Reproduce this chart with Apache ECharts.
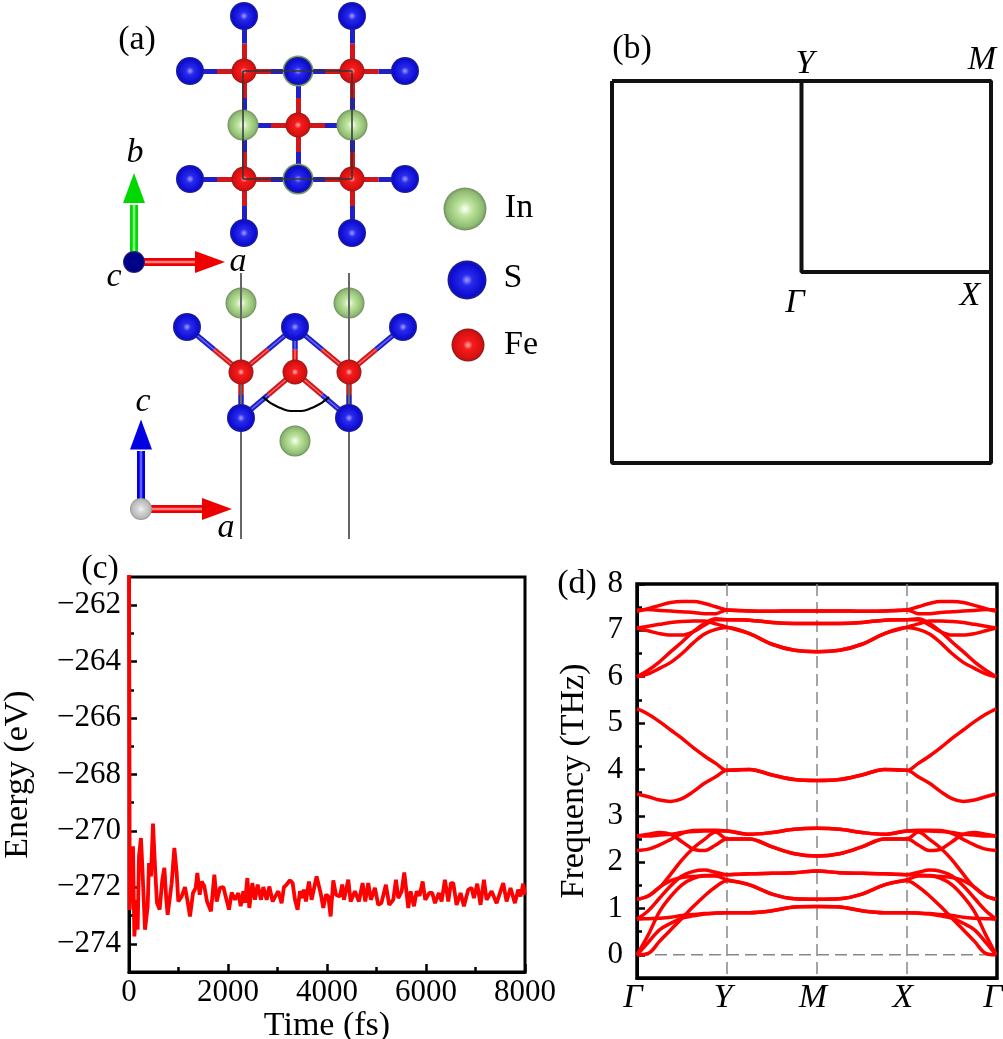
<!DOCTYPE html>
<html><head><meta charset="utf-8">
<style>html,body{margin:0;padding:0;background:#fff}#c{width:1003px;height:1039px}</style>
<script src="https://cdn.jsdelivr.net/npm/echarts@6/dist/echarts.min.js"></script>
</head><body><div id="c"></div>
<script>
// ---------- panel (a): sites, in picture units ----------
const inBehindTop=[[298,71],[298,179]];
const inFrontTop=[[243,125],[352,125]];
const sulfurTop=[[244,16],[352,16],[190,71],[298,71],[405,71],[190,179],[298,179],[405,179],[244,233],[352,233]];
const ironTop=[[244,71],[352,71],[298,125],[244,179],[352,179]];
const bondsTop=[[[244,71],[190,71]],[[244,71],[298,71]],[[244,71],[244,16]],[[244,71],[244,125]],
 [[298,125],[244,125]],[[298,125],[352,125]],[[298,125],[298,71]],[[298,125],[298,179]],
 [[352,71],[298,71]],[[352,71],[405,71]],[[352,71],[352,16]],[[352,71],[352,125]],
 [[244,179],[190,179]],[[244,179],[298,179]],[[244,179],[244,125]],[[244,179],[244,233]],
 [[352,179],[298,179]],[[352,179],[405,179]],[[352,179],[352,125]],[[352,179],[352,233]]];
const indiumSide=[[241,303],[349,303],[295,441]];
const sulfurSide=[[187,327],[295,327],[403,327],[241,418],[349,418]];
const ironSide=[[241,372],[295,372],[349,372]];
const bondsSide=[[[241,372],[187,327]],[[241,372],[295,327]],[[295,372],[295,327]],[[349,372],[295,327]],[[349,372],[403,327]],
 [[241,372],[241,418]],[[349,372],[349,418]],[[295,372],[241,418]],[[295,372],[349,418]]];
const cellBox=[[243,71],[352,71],[352,179],[243,179],[243,71]];
const guideLeft=[[241,273],[241,539]];
const guideRight=[[349,273],[349,539]];
const angleArc=[[263,397],[278,407],[296,411],[314,407],[329,397]];
const legendIn=[[465,209]],legendS=[[467,280]],legendFe=[[468,345]];
// ---------- panel (b) ----------
const zoneFrame=[[-1,1],[1,1],[1,-1],[-1,-1],[-1,1]];
const zonePath=[[0,1],[0,0],[1,0]];
// ---------- panel (c) ----------
const energyTimes=[0,5,10,13,81,108,155,175,202,242,269,323,377,404,444,485,525,565,619,673,714,754,781,821,862,916,963,996,1064,1131,1178,1232,1293,1347,1381,1428,1468,1522,1576,1656,1724,1771,1838,1906,1953,2020,2074,2141,2209,2256,2310,2343,2391,2431,2492,2545,2599,2667,2714,2781,2834,2902,2956,3016,3083,3130,3184,3252,3306,3353,3406,3454,3507,3534,3575,3635,3689,3790,3871,3925,3979,4026,4073,4127,4180,4261,4308,4342,4430,4477,4564,4645,4719,4773,4833,4887,4968,5035,5100,5190,5257,5339,5393,5440,5508,5561,5642,5689,5757,5810,5870,5932,5985,6066,6127,6181,6261,6315,6382,6450,6504,6551,6618,6699,6766,6854,6921,6968,7035,7102,7170,7224,7325,7426,7560,7628,7708,7796,7863,7910,7964,7998];
const energyValues=[-260.9,-264,-268,-272.8,-270.54,-273.74,-272.44,-273.5,-270.9,-270.25,-271.25,-273.5,-272.67,-271.14,-271.61,-269.74,-271.25,-272.55,-272.79,-271.73,-271.31,-272.44,-272.97,-273.03,-271.85,-270.6,-271.49,-272.5,-272.32,-271.99,-272.44,-273.03,-272.2,-272.02,-271.49,-272.26,-271.79,-271.96,-272.5,-272.85,-271.55,-272.5,-272.02,-271.99,-272.32,-272.79,-272.18,-272.44,-272.2,-272.67,-272.14,-272.55,-271.67,-272.73,-271.85,-272.44,-271.9,-272.44,-271.99,-272.44,-271.97,-272.5,-272.32,-272.14,-272.56,-271.99,-271.9,-271.75,-271.85,-272.44,-272.79,-272.14,-272.38,-272.08,-272.5,-271.79,-272.44,-271.61,-272.2,-272.73,-272.26,-272.32,-273.03,-271.75,-272.26,-272.32,-271.9,-272.44,-271.73,-272.5,-272.14,-272.5,-271.85,-272.5,-271.85,-272.44,-272.02,-272.62,-272.55,-271.91,-272.62,-272.44,-271.73,-272.38,-272.14,-271.47,-272.73,-272.14,-272.67,-272.14,-272.3,-271.79,-272.44,-272.2,-272.2,-272.56,-272.2,-272.5,-271.73,-272.5,-271.85,-271.85,-272.62,-272.2,-272.67,-272.08,-272.02,-272.38,-271.87,-272.62,-271.73,-272.44,-272.14,-272.56,-271.85,-272.5,-272.02,-272.56,-272.08,-272.32,-271.87,-272.26];
const energyMajorTicks=[-274,-272,-270,-268,-266,-264,-262];
const energyMinorTicks=[-273,-271,-269,-267,-265,-263];
// ---------- panel (d) ----------
const pathTicks=['Γ','Y','M','X','Γ'];
const pathSamples=[0,.125,.25,.375,.5,.625,.75,.875,1,1.25,1.5,1.75,2,2.25,2.5,2.75,3,3.125,3.25,3.375,3.5,3.625,3.75,3.875,3.99];
const freqMajorTicks=[0,1,2,3,4,5,6,7,8];
const freqMinorTicks=[.5,1.5,2.5,3.5,4.5,5.5,6.5,7.5];
const zeroLine=[[0,0],[4,0]];
const band01=[0,.03,.29,.54,.79,1.04,1.27,1.47,1.6,1.51,1.31,1.21,1.2,1.21,1.31,1.51,1.6,1.47,1.27,1.04,.79,.54,.29,.03,0];
const band02=[0,.27,.54,.68,.79,.84,.88,.9,.91,.91,.95,1.03,1.04,1.03,.95,.91,.91,.9,.88,.84,.79,.68,.54,.27,0];
const band03=[0,.43,.93,1.26,1.51,1.65,1.7,1.7,1.62,1.51,1.31,1.21,1.2,1.21,1.31,1.51,1.62,1.7,1.7,1.65,1.51,1.26,.93,.43,0];
const band04=[.77,.95,1.22,1.49,1.7,1.8,1.83,1.78,1.73,1.75,1.76,1.77,1.81,1.77,1.76,1.75,1.73,1.78,1.83,1.8,1.7,1.49,1.22,.95,.77];
const band05=[.77,.78,.79,.81,.85,.87,.89,.9,.91,.91,.95,1.03,1.04,1.03,.95,.91,.91,.9,.89,.87,.85,.81,.79,.78,.77];
const band06=[1.2,1.27,1.46,1.6,1.67,1.69,1.71,1.72,1.73,1.75,1.76,1.77,1.81,1.77,1.76,1.75,1.73,1.72,1.71,1.69,1.67,1.6,1.46,1.27,1.2];
const band07=[1.2,1.27,1.45,1.74,2.05,2.3,2.49,2.65,2.5,2.5,2.33,2.18,2.13,2.18,2.33,2.5,2.5,2.65,2.49,2.3,2.05,1.74,1.45,1.27,1.2];
const band08=[2.25,2.28,2.37,2.49,2.62,2.68,2.69,2.69,2.67,2.6,2.64,2.71,2.73,2.71,2.64,2.6,2.67,2.69,2.69,2.68,2.62,2.49,2.37,2.28,2.25];
const band09=[2.565,2.6,2.64,2.6,2.44,2.28,2.25,2.37,2.5,2.5,2.33,2.18,2.13,2.18,2.33,2.5,2.5,2.37,2.25,2.28,2.44,2.6,2.64,2.6,2.565];
const band10=[2.565,2.565,2.585,2.6,2.64,2.66,2.67,2.67,2.67,2.6,2.64,2.71,2.73,2.71,2.64,2.6,2.67,2.67,2.67,2.66,2.64,2.6,2.585,2.565,2.565];
const band11=[3.47,3.41,3.34,3.31,3.37,3.52,3.7,3.84,3.98,4,3.88,3.78,3.76,3.78,3.88,4,3.98,3.84,3.7,3.52,3.37,3.31,3.34,3.41,3.47];
const band12=[5.31,5.19,5.03,4.85,4.67,4.47,4.29,4.13,3.98,4,3.88,3.78,3.76,3.78,3.88,4,3.98,4.13,4.29,4.47,4.67,4.85,5.03,5.19,5.31];
const band13=[6,6.06,6.18,6.31,6.5,6.73,6.92,7.02,7.06,6.93,6.7,6.57,6.54,6.57,6.7,6.93,7.06,7.02,6.92,6.73,6.5,6.31,6.18,6.06,6];
const band14=[6,6.14,6.32,6.54,6.75,6.97,7.15,7.25,7.23,7.22,7.17,7.15,7.15,7.15,7.17,7.22,7.23,7.25,7.15,6.97,6.75,6.54,6.32,6.14,6];
const band15=[7.05,6.99,6.93,6.9,6.9,6.97,7.11,7.23,7.23,7.22,7.17,7.15,7.15,7.15,7.17,7.22,7.23,7.23,7.11,6.97,6.9,6.9,6.93,6.99,7.05];
const band16=[7.05,7.09,7.13,7.17,7.19,7.2,7.2,7.14,7.07,6.93,6.7,6.57,6.54,6.57,6.7,6.93,7.07,7.14,7.2,7.2,7.19,7.17,7.13,7.09,7.05];
const band17=[7.44,7.45,7.43,7.42,7.4,7.385,7.36,7.36,7.44,7.42,7.41,7.42,7.42,7.42,7.41,7.42,7.44,7.36,7.36,7.385,7.4,7.42,7.43,7.45,7.44];
const band18=[7.41,7.47,7.54,7.6,7.62,7.62,7.58,7.51,7.44,7.42,7.41,7.42,7.42,7.42,7.41,7.42,7.44,7.51,7.58,7.62,7.62,7.6,7.54,7.47,7.41];
const bands=[band01,band02,band03,band04,band05,band06,band07,band08,band09,band10,band11,band12,band13,band14,band15,band16,band17,band18];

// ---------- styling helpers ----------
const serif='"Liberation Serif", serif';
const sphere=(c0,c1,c2,c3,m=.3)=>({type:'radial',x:.5,y:.5,r:.5,colorStops:[{offset:0,color:c0},{offset:m,color:c1},{offset:.84,color:c2},{offset:1,color:c3}]});
const sBlue=sphere('#a0a0ff','#2a2aee','#0c0cd0','#20208a',.28);
const feRed=sphere('#ffb0b0','#f41c1c','#d80f0f','#8a1c1c',.28);
const inGreen=sphere('#ffffff','#bfe6a0','#90bc72','#708f62',.32);
const dot=(data,size,color,z)=>({type:'scatter',xAxisIndex:0,yAxisIndex:0,data,symbolSize:size,itemStyle:{color,opacity:1},z,silent:true});
const poly=(data,color,width,z,extra)=>Object.assign({type:'line',xAxisIndex:0,yAxisIndex:0,data,showSymbol:false,symbol:'none',silent:true,z,lineStyle:{color,width}},extra||{});
const mid=(a,b)=>[(a[0]+b[0])/2,(a[1]+b[1])/2];
const bondSeries=(list,red,blue,width,z)=>[
 {type:'lines',coordinateSystem:'cartesian2d',xAxisIndex:0,yAxisIndex:0,z,silent:true,lineStyle:{color:red,width,opacity:1,curveness:0},data:list.map(b=>({coords:[b[0],mid(b[0],b[1])]}))},
 {type:'lines',coordinateSystem:'cartesian2d',xAxisIndex:0,yAxisIndex:0,z,silent:true,lineStyle:{color:blue,width,opacity:1,curveness:0},data:list.map(b=>({coords:[mid(b[0],b[1]),b[1]]}))}
];
const arrow=(from,to,headAt,rot,color,light)=>[
 poly([from,to],color,8,7),poly([from,to],light,2.5,7),
 dot([headAt],[22,30],color,7)].map((s,i)=>{if(i===2){s.symbol='triangle';s.symbolRotate=rot;}return s;});

const texts=[['(a)',137,40,0],['b',135,153,1],['a',238,262,1],['c',114,277,1],['In',519,208,0],['S',513,278,0],['Fe',521,345,0],['c',143,402,1],['a',226,528,1],
 ['(b)',632,49,0],['Y',805,64,1],['M',982,60,1],['Γ',795,303,1],['X',970,296,1],['(c)',100,569,0],['(d)',577,584,0]];

const baseAxis={axisLine:{onZero:false,lineStyle:{color:'#000',width:3}},splitLine:{show:false}};
const labelStyle={color:'#000',fontFamily:serif,fontSize:31};

const option={
 animation:false,backgroundColor:'#fff',
 grid:[{left:0,top:0,width:600,height:560,show:false,outerBoundsMode:'none'},
       {left:612,top:81,width:379,height:382,show:false,outerBoundsMode:'none'},
       {left:129,top:577,width:396,height:395,show:true,borderColor:'#000',borderWidth:3,outerBoundsMode:'none'},
       {left:637,top:584,width:360,height:394,show:true,borderColor:'#000',borderWidth:3.5,outerBoundsMode:'none'}],
 xAxis:[{gridIndex:0,type:'value',min:0,max:600,show:false},
        {gridIndex:1,type:'value',min:-1,max:1,show:false},
        {gridIndex:2,type:'value',min:0,max:8000,interval:2000,name:'Time (fs)',nameLocation:'middle',nameGap:32,
         nameTextStyle:{color:'#000',fontFamily:serif,fontSize:34},
         axisLine:baseAxis.axisLine,splitLine:{show:false},
         axisTick:{inside:true,length:8,lineStyle:{width:2.5,color:'#000'}},
         minorTick:{show:true,splitNumber:2,length:5,lineStyle:{width:2.5,color:'#000'}},
         axisLabel:Object.assign({margin:5,showMinLabel:true,showMaxLabel:true,formatter:v=>String(v)},labelStyle)},
        {gridIndex:3,type:'value',min:0,max:4,interval:1,
         axisLine:baseAxis.axisLine,axisTick:{show:false},
         splitLine:{show:true,showMinLine:false,showMaxLine:false,lineStyle:{color:'#888',width:1.5,type:[12,6]}},
         axisLabel:Object.assign({margin:3,padding:[0,8,0,0],showMinLabel:true,showMaxLabel:true,formatter:v=>pathTicks[v]},labelStyle,{fontStyle:'italic',fontSize:34})}],
 yAxis:[{gridIndex:0,type:'value',min:0,max:560,inverse:true,show:false},
        {gridIndex:1,type:'value',min:-1,max:1,show:false},
        {gridIndex:2,type:'value',min:-275,max:-261,name:'Energy (eV)',nameLocation:'middle',nameGap:94,
         nameTextStyle:{color:'#000',fontFamily:serif,fontSize:34},
         axisLine:baseAxis.axisLine,splitLine:{show:false},
         axisTick:{inside:true,length:8,lineStyle:{width:2.5,color:'#000'},customValues:energyMajorTicks},
         axisLabel:Object.assign({margin:8,customValues:energyMajorTicks,formatter:v=>'\u2212'+Math.abs(v)},labelStyle)},
        {gridIndex:2,type:'value',position:'left',min:-275,max:-261,axisLine:{show:false},splitLine:{show:false},
         axisTick:{inside:true,length:5,lineStyle:{width:2.5,color:'#000'},customValues:energyMinorTicks},axisLabel:{show:false}},
        {gridIndex:3,type:'value',min:-.5,max:8,name:'Frequency (THz)',nameLocation:'middle',nameGap:46,
         nameTextStyle:{color:'#000',fontFamily:serif,fontSize:34},
         axisLine:baseAxis.axisLine,splitLine:{show:false},
         axisTick:{inside:true,length:8,lineStyle:{width:2.5,color:'#000'},customValues:freqMajorTicks},
         axisLabel:Object.assign({margin:14,customValues:freqMajorTicks,formatter:v=>String(v)},labelStyle)},
        {gridIndex:3,type:'value',position:'left',min:-.5,max:8,axisLine:{show:false},splitLine:{show:false},
         axisTick:{inside:true,length:5,lineStyle:{width:2.5,color:'#000'},customValues:freqMinorTicks},axisLabel:{show:false}}],
 series:[
  ...bondSeries(bondsTop,'#d0181c','#2020c8',5,2),
  ...bondSeries(bondsSide,'#d0181c','#2020c8',5.5,2),
  ...bondSeries(bondsSide,'#ff6a6a','#6a6aff',1.5,2),
  dot(inBehindTop,31,inGreen,3),
  dot(inFrontTop,31,inGreen,5),
  dot(indiumSide,31,inGreen,3),
  poly(guideLeft,'#666',2,4),poly(guideRight,'#666',2,4),
  dot(sulfurTop,28,sBlue,4),
  dot(ironTop,25,feRed,5),
  dot(sulfurSide,28,sBlue,5),
  dot(ironSide,25,feRed,5),
  poly(cellBox,'#333',1.5,6),
  poly(angleArc,'#000',2,6,{smooth:.5}),
  dot(legendIn,43,inGreen,3),dot(legendS,39,sBlue,3),dot(legendFe,33,feRed,3),
  ...arrow([134,262],[134,205],[134,188],0,'#00d800','#80ff80'),
  ...arrow([134,262],[197,262],[210,262],-90,'#ee0000','#ff8080'),
  dot([[134,262]],22,sphere('#0a0a90','#00008a','#000080','#303090',.3),8),
  ...arrow([141,509],[141,451],[141,434.5],0,'#0000e0','#6060ff'),
  ...arrow([141,509],[204,509],[217,509],-90,'#ee0000','#ff8080'),
  dot([[141,509]],22,sphere('#f4f4f4','#d8d8d8','#b8b8b8','#909090',.3),8),
  {type:'line',xAxisIndex:1,yAxisIndex:1,data:zoneFrame,symbol:'none',clip:false,silent:true,lineStyle:{color:'#111',width:4},z:3},
  {type:'line',xAxisIndex:1,yAxisIndex:1,data:zonePath,symbol:'none',clip:false,silent:true,lineStyle:{color:'#111',width:4},z:3},
  {type:'line',xAxisIndex:2,yAxisIndex:2,data:energyTimes.map((t,i)=>[t,energyValues[i]]),symbol:'none',silent:true,lineStyle:{color:'#ff0000',width:3.8},z:5},
  {type:'line',xAxisIndex:3,yAxisIndex:4,data:zeroLine,symbol:'none',silent:true,lineStyle:{color:'#888',width:1.5,type:[12,6]},z:1},
  ...bands.map(b=>({type:'line',xAxisIndex:3,yAxisIndex:4,data:pathSamples.map((x,i)=>[x,b[i]]),symbol:'none',smooth:.35,silent:true,lineStyle:{color:'#ff0000',width:3.5},z:5}))
 ],
 graphic:texts.map(t=>({type:'text',z:20,silent:true,style:{text:t[0],x:t[1],y:t[2],align:'center',verticalAlign:'middle',fill:'#000',font:(t[3]?'italic ':'')+'34px '+serif}}))
};
const chart=echarts.init(document.getElementById('c'),null,{renderer:'canvas',width:1003,height:1039});
chart.setOption(option);
</script></body></html>
